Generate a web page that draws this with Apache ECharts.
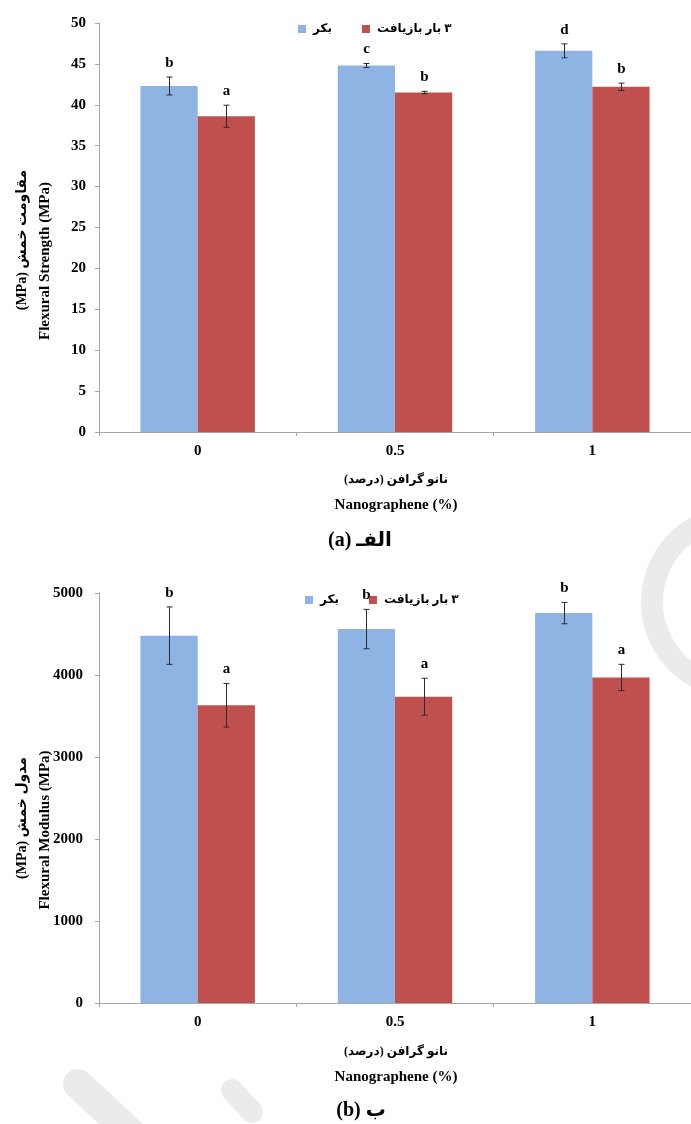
<!DOCTYPE html>
<html>
<head>
<meta charset="utf-8">
<script src="https://cdn.jsdelivr.net/npm/echarts@6/dist/echarts.min.js"></script>
<style>
  html, body { margin: 0; padding: 0; background: #fff; }
  #chart { width: 691px; height: 1124px; }
</style>
</head>
<body>
<div id="chart"></div>
<script>
// Nanographene content (%) on the category axis
const categories = ['0', '0.5', '1'];

// Series names (RTL embedding so the Persian reads right-to-left on canvas)
const nameVirgin = '\u202Bبکر\u202C';
const nameRecycled = '\u202B۳ بار بازیافت\u202C';

// (a) Flexural strength, MPa: means, standard deviations, Duncan groups
const strengthVirgin = [42.3, 44.8, 46.6];
const strengthVirginErr = [1.1, 0.25, 0.85];
const strengthVirginGroup = ['b', 'c', 'd'];
const strengthRecycled = [38.6, 41.5, 42.2];
const strengthRecycledErr = [1.35, 0.15, 0.45];
const strengthRecycledGroup = ['a', 'b', 'b'];

// (b) Flexural modulus, MPa
const modulusVirgin = [4480, 4560, 4755];
const modulusVirginErr = [350, 240, 130];
const modulusVirginGroup = ['b', 'b', 'b'];
const modulusRecycled = [3630, 3735, 3970];
const modulusRecycledErr = [265, 225, 160];
const modulusRecycledGroup = ['a', 'a', 'a'];

// Axis tick settings
const strengthAxis = { min: 0, max: 50, interval: 5 };
const modulusAxis = { min: 0, max: 5000, interval: 1000 };

const SERIF = "'Liberation Serif', 'Times New Roman', 'DejaVu Sans', serif";
const BLUE = '#8EB4E3';
const RED = '#C0504D';
const AXIS_GRAY = '#a6a6a6';
const WATERMARK = '#ebebeb';
const CAT_GAP = 0.42;

function xAxisDef(gridIndex) {
  return {
    type: 'category', gridIndex, data: categories,
    axisLine: { lineStyle: { color: AXIS_GRAY, width: 1 } },
    axisTick: { show: true, length: 4, lineStyle: { color: AXIS_GRAY } },
    axisLabel: { margin: 12, color: '#000', fontFamily: SERIF, fontWeight: 'bold', fontSize: 15 },
    splitLine: { show: false }
  };
}

function yAxisDef(gridIndex, ax, margin) {
  return {
    type: 'value', gridIndex, min: ax.min, max: ax.max, interval: ax.interval,
    axisLine: { show: true, lineStyle: { color: AXIS_GRAY, width: 1 } },
    axisTick: { show: true, length: 4, lineStyle: { color: AXIS_GRAY } },
    axisLabel: {
      margin, color: '#000', fontFamily: SERIF, fontWeight: 'bold', fontSize: 15,
      formatter: (v) => String(v)
    },
    splitLine: { show: false }
  };
}

function barSeries(name, color, idx, values) {
  return {
    type: 'bar', name, xAxisIndex: idx, yAxisIndex: idx,
    data: values,
    barGap: '0%', barCategoryGap: (CAT_GAP * 100) + '%',
    itemStyle: { color },
    silent: true
  };
}

// Error bars with the significance letter above each cap
function errorSeries(idx, means, errs, groups, side) {
  return {
    type: 'custom', xAxisIndex: idx, yAxisIndex: idx, z: 5, silent: true,
    data: means.map((m, i) => [i, m - errs[i], m + errs[i]]),
    encode: { x: 0, y: [1, 2] },
    renderItem(params, api) {
      const i = api.value(0);
      const lo = api.coord([i, api.value(1)]);
      const hi = api.coord([i, api.value(2)]);
      const band = api.size([1, 0])[0];
      const bw = band * (1 - CAT_GAP) / 2;
      const x = Math.round(lo[0] + side * bw / 2) + 0.5;
      const cap = 3;
      const stroke = { stroke: '#2b2b2b', lineWidth: 1 };
      return {
        type: 'group',
        children: [
          { type: 'line', shape: { x1: x, y1: lo[1], x2: x, y2: hi[1] }, style: stroke },
          { type: 'line', shape: { x1: x - cap, y1: hi[1], x2: x + cap, y2: hi[1] }, style: stroke },
          { type: 'line', shape: { x1: x - cap, y1: lo[1], x2: x + cap, y2: lo[1] }, style: stroke },
          {
            type: 'text',
            style: {
              text: groups[params.dataIndex], x: x, y: hi[1] - 14,
              align: 'center', verticalAlign: 'middle',
              font: 'bold 15px ' + SERIF, fill: '#000'
            }
          }
        ]
      };
    }
  };
}

function legendDef(left, top) {
  return {
    left, top, orient: 'horizontal',
    data: [nameVirgin, nameRecycled],
    icon: 'rect', itemWidth: 8, itemHeight: 8, itemGap: 30,
    selectedMode: false,
    textStyle: { color: '#000', fontFamily: SERIF, fontWeight: 'bold', fontSize: 12, padding: [0, 0, 0, 2] }
  };
}

function titleText(text, x, y, size, rotate) {
  return {
    type: 'text', x, y, rotation: rotate ? Math.PI / 2 : 0, z: 10,
    style: {
      text, align: 'center', verticalAlign: 'middle',
      font: 'bold ' + size + 'px ' + SERIF, fill: '#000'
    }
  };
}

const chart = echarts.init(document.getElementById('chart'), null, { renderer: 'canvas' });

chart.setOption({
  backgroundColor: '#ffffff',
  animation: false,
  grid: [
    { left: 99, top: 23, width: 595, height: 409 },
    { left: 99, top: 593, width: 595, height: 410 }
  ],
  legend: [legendDef(293, 18), legendDef(300, 589)],
  xAxis: [xAxisDef(0), xAxisDef(1)],
  yAxis: [yAxisDef(0, strengthAxis, 13), yAxisDef(1, modulusAxis, 16)],
  series: [
    barSeries(nameVirgin, BLUE, 0, strengthVirgin),
    barSeries(nameRecycled, RED, 0, strengthRecycled),
    errorSeries(0, strengthVirgin, strengthVirginErr, strengthVirginGroup, -1),
    errorSeries(0, strengthRecycled, strengthRecycledErr, strengthRecycledGroup, 1),
    barSeries(nameVirgin, BLUE, 1, modulusVirgin),
    barSeries(nameRecycled, RED, 1, modulusRecycled),
    errorSeries(1, modulusVirgin, modulusVirginErr, modulusVirginGroup, -1),
    errorSeries(1, modulusRecycled, modulusRecycledErr, modulusRecycledGroup, 1)
  ],
  graphic: [
    // faint watermark strokes behind the charts
    {
      type: 'arc', z: -10, silent: true,
      shape: { cx: 738, cy: 602, r: 86, startAngle: Math.PI * 0.62, endAngle: Math.PI * 1.38 },
      style: { stroke: WATERMARK, lineWidth: 22, fill: null }
    },
    {
      type: 'line', z: -10, silent: true,
      shape: { x1: 78, y1: 1084, x2: 138, y2: 1140 },
      style: { stroke: WATERMARK, lineWidth: 30, lineCap: 'round' }
    },
    {
      type: 'line', z: -10, silent: true,
      shape: { x1: 232, y1: 1090, x2: 252, y2: 1112 },
      style: { stroke: WATERMARK, lineWidth: 22, lineCap: 'round' }
    },

    // (a) axis titles and caption
    titleText('\u202Bمقاومت خمش (MPa)\u202C', 22, 240, 14, true),
    titleText('Flexural Strength (MPa)', 45, 261, 15, true),
    titleText('\u202Bنانو گرافن (درصد)\u202C', 396, 480, 12, false),
    titleText('Nanographene (%)', 396, 505, 15, false),
    titleText('\u202Bالفـ (a)\u202C', 360, 541, 20, false),

    // (b) axis titles and caption
    titleText('\u202Bمدول خمش (MPa)\u202C', 22, 818, 14, true),
    titleText('Flexural Modulus (MPa)', 45, 830, 15, true),
    titleText('\u202Bنانو گرافن (درصد)\u202C', 396, 1052, 12, false),
    titleText('Nanographene (%)', 396, 1077, 15, false),
    titleText('\u202Bب (b)\u202C', 361, 1111, 20, false)
  ]
});
</script>
</body>
</html>
